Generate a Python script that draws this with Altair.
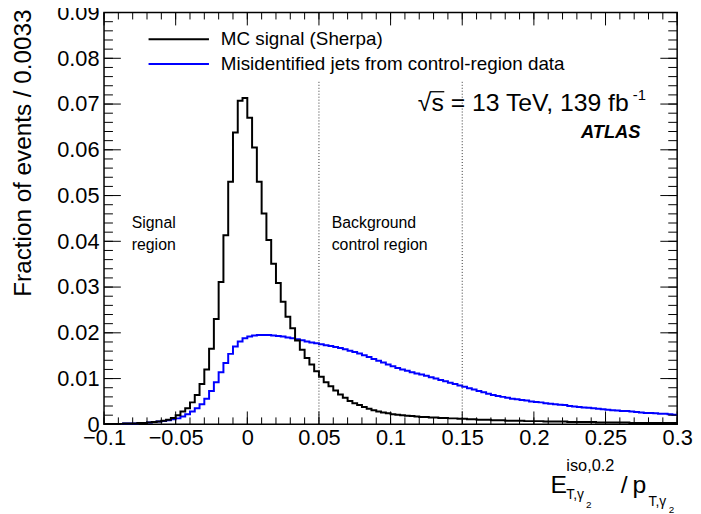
import altair as alt
import pandas as pd

# ---------------- data ----------------
X_MIN, X_MAX = -0.1, 0.3
Y_MIN, Y_MAX = 0.0, 0.09
N_BINS = 120

mc_signal = [
    0.0001, 0.0001, 0.0001, 0.0001, 0.0002, 0.0002, 0.0002, 0.0003, 0.0003, 0.0004,
    0.0005, 0.0006, 0.0008, 0.0010, 0.0014, 0.0020, 0.0028, 0.0035, 0.0048, 0.0064,
    0.0088, 0.0120, 0.0165, 0.0230, 0.0311, 0.0413, 0.0530, 0.0638, 0.0707, 0.0713,
    0.0670, 0.0605, 0.0530, 0.0461, 0.0403, 0.0351, 0.0309, 0.0268, 0.0235, 0.0210,
    0.0183, 0.0163, 0.0145, 0.0131, 0.0116, 0.0104, 0.0092, 0.0083, 0.0074, 0.0065,
    0.0058, 0.0051, 0.0046, 0.0042, 0.0038, 0.0034, 0.0031, 0.0028, 0.0026, 0.0024,
    0.0022, 0.0021, 0.0020, 0.0019, 0.0018, 0.0017, 0.0016, 0.0016, 0.0015, 0.0015,
    0.0014, 0.0014, 0.0013, 0.0013, 0.0012, 0.0012, 0.0011, 0.0011, 0.0010, 0.0010,
    0.0010, 0.0009, 0.0009, 0.0009, 0.0008, 0.0008, 0.0008, 0.0008, 0.0007, 0.0007,
    0.0007, 0.0007, 0.0006, 0.0006, 0.0006, 0.0006, 0.0006, 0.0005, 0.0005, 0.0005,
    0.0005, 0.0005, 0.0005, 0.0004, 0.0004, 0.0004, 0.0004, 0.0004, 0.0004, 0.0004,
    0.0003, 0.0003, 0.0003, 0.0003, 0.0003, 0.0003, 0.0003, 0.0003, 0.0003, 0.0003,
]

misid_jets = [
    0.0001, 0.0001, 0.0001, 0.0001, 0.0002, 0.0002, 0.0002, 0.0003, 0.0003, 0.0004,
    0.0005, 0.0006, 0.0007, 0.0009, 0.0011, 0.0013, 0.0017, 0.0022, 0.0028, 0.0035,
    0.0044, 0.0056, 0.0073, 0.0092, 0.0114, 0.0134, 0.0154, 0.0170, 0.0181, 0.0188,
    0.0192, 0.0194, 0.0195, 0.0195, 0.0195, 0.0194, 0.0193, 0.0192, 0.0190, 0.0188,
    0.0186, 0.0184, 0.0181, 0.0179, 0.0177, 0.0175, 0.0173, 0.0171, 0.0169, 0.0167,
    0.0164, 0.0161, 0.0158, 0.0155, 0.0151, 0.0147, 0.0143, 0.0139, 0.0135, 0.0131,
    0.0127, 0.0123, 0.0120, 0.0117, 0.0114, 0.0111, 0.0109, 0.0106, 0.0103, 0.0100,
    0.0097, 0.0094, 0.0091, 0.0088, 0.0085, 0.0082, 0.0079, 0.0076, 0.0073, 0.0070,
    0.0067, 0.0064, 0.0062, 0.0060, 0.0058, 0.0056, 0.0055, 0.0053, 0.0052, 0.0050,
    0.0049, 0.0048, 0.0046, 0.0045, 0.0044, 0.0043, 0.0042, 0.0040, 0.0039, 0.0038,
    0.0037, 0.0036, 0.0035, 0.0034, 0.0033, 0.0032, 0.0031, 0.0030, 0.0029, 0.0029,
    0.0028, 0.0027, 0.0026, 0.0025, 0.0025, 0.0024, 0.0023, 0.0023, 0.0022, 0.0021,
]

series_names = ["MC signal (Sherpa)", "Misidentified jets from control-region data"]
series_colors = ["#000000", "#0000ff"]

x_tick_labels = [-0.1, -0.05, 0.0, 0.05, 0.1, 0.15, 0.2, 0.25, 0.3]
y_tick_labels = [0.0, 0.01, 0.02, 0.03, 0.04, 0.05, 0.06, 0.07, 0.08, 0.09]
x_minor_ticks = [round(-0.1 + 0.01 * i, 4) for i in range(41)]
y_minor_ticks = [round(0.002 * i, 4) for i in range(46)]

region_edges = [0.05, 0.15]
region_line_top = 0.075

y_title = "Fraction of events / 0.0033"
signal_region_text = ["Signal", "region"]
control_region_text = ["Background", "control region"]
energy_text = "√s = 13 TeV, 139 fb"
lumi_sup = "-1"
experiment = "ATLAS"

# ---------------- layout / style ----------------
FONT = "Liberation Sans"
W, H = 579, 416

AW = {' ': 278, '=': 584, '0': 556, '1': 556, '2': 556, '3': 556, '9': 556,
      '.': 278, ',': 278, '-': 333, 'T': 611, 'e': 556, 'V': 667, 'f': 278,
      'b': 556, 's': 500, '√': 549, 'i': 222, 'o': 556, 'E': 667, 'γ': 500}


def tw(s, size):
    return sum(AW.get(c, 556) for c in s) * size / 1000.0


xscale = alt.Scale(domain=[X_MIN, X_MAX], nice=False, zero=False)
yscale = alt.Scale(domain=[Y_MIN, Y_MAX], nice=False, zero=False)
xaxis = alt.Axis(values=x_tick_labels, format="~g", ticks=False, domain=False,
                 grid=False, labelFont=FONT, labelFontSize=22, labelColor="black",
                 labelPadding=3, labelOverlap=False, labelFlush=False,
                 labelBound=False, title=None)
yaxis = alt.Axis(values=y_tick_labels, format="~g", ticks=False, domain=False,
                 grid=False, labelFont=FONT, labelFontSize=22, labelColor="black",
                 labelPadding=5, labelOverlap=False, labelFlush=False,
                 labelBound=False, title=None)


def X(f):
    return alt.X(f, scale=xscale, axis=xaxis)


def Y(f):
    return alt.Y(f, scale=yscale, axis=yaxis)


bw = (X_MAX - X_MIN) / N_BINS
rows = []
for name, vals in [(series_names[1], misid_jets), (series_names[0], mc_signal)]:
    for k, v in enumerate(vals):
        rows.append({"x": X_MIN + k * bw, "y": v, "s": name})
    rows.append({"x": X_MAX, "y": vals[-1], "s": name})
hist_df = pd.DataFrame(rows)

layers = []

hist = alt.Chart(hist_df).mark_line(interpolate="step-after", strokeWidth=2).encode(
    x=X("x:Q"), y=Y("y:Q"),
    color=alt.Color("s:N", scale=alt.Scale(domain=series_names, range=series_colors), legend=None),
    detail="s:N",
)
layers.append(hist)

# region separators
reg_df = pd.DataFrame({"x": region_edges, "y0": [0.0] * len(region_edges),
                       "y1": [region_line_top] * len(region_edges)})
layers.append(alt.Chart(reg_df).mark_rule(strokeDash=[1, 2], color="#333333", strokeWidth=1).encode(
    x=X("x:Q"), y=Y("y0:Q"), y2="y1:Q"))


# inward ROOT-style ticks on all four sides
def xticks(vals, length):
    df = pd.DataFrame({"v": vals})
    bot = alt.Chart(df).mark_rule(color="black", strokeWidth=1).encode(
        x=X("v:Q"), y=alt.value(H), y2=alt.value(H - length))
    top = alt.Chart(df).mark_rule(color="black", strokeWidth=1).encode(
        x=X("v:Q"), y=alt.value(0), y2=alt.value(length))
    return [bot, top]


def yticks(vals, length):
    df = pd.DataFrame({"v": vals})
    left = alt.Chart(df).mark_rule(color="black", strokeWidth=1).encode(
        y=Y("v:Q"), x=alt.value(0), x2=alt.value(length))
    right = alt.Chart(df).mark_rule(color="black", strokeWidth=1).encode(
        y=Y("v:Q"), x=alt.value(W - length), x2=alt.value(W))
    return [left, right]


layers += xticks(x_minor_ticks, 7)
layers += xticks(x_tick_labels, 13)
layers += yticks(y_minor_ticks, 9)
layers += yticks(y_tick_labels, 17)


def txt(s, x, y, size, align="left", baseline="alphabetic", weight="normal",
        style="normal", angle=0):
    return alt.Chart(pd.DataFrame({"t": [s]})).mark_text(
        align=align, baseline=baseline, font=FONT, fontSize=size,
        fontWeight=weight, fontStyle=style, angle=angle, color="black"
    ).encode(x=alt.value(x), y=alt.value(y), text="t:N")


def hline(x1, x2, y, color, width):
    return alt.Chart(pd.DataFrame({"c": [color]})).mark_rule(
        color=color, strokeWidth=width).encode(
        x=alt.value(x1), x2=alt.value(x2), y=alt.value(y))


# legend
leg_y = [27, 52]
for name, col, yy in zip(series_names, series_colors, leg_y):
    layers.append(hline(45, 106, yy, col, 2))
    layers.append(txt(name, 118, yy, 19, baseline="middle"))

# energy / lumi and experiment label
ex, ey, es = 317, 99, 25
layers.append(txt(energy_text, ex, ey, es))
layers.append(txt(lumi_sup, ex + tw(energy_text, es) - 1.5, ey - 11, 15))
s_left = ex + tw("√", es)
layers.append(hline(s_left - 1, s_left + tw("s", es) + 0.5, ey - 19, "black", 1.3))
layers.append(txt(experiment, 542, 127, 18.5, align="right", weight="bold", style="italic"))

# region texts
layers.append(txt(signal_region_text[0], 28, 217.5, 16))
layers.append(txt(signal_region_text[1], 28, 239.5, 16))
layers.append(txt(control_region_text[0], 230, 217.5, 16))
layers.append(txt(control_region_text[1], 230, 239.5, 16))

# y title
layers.append(txt(y_title, -81, -3, 24.5, align="right", baseline="middle", angle=270))

# x title  E_{T,γ2}^{iso,0.2} / p_{T,γ2}
layers.append(txt("E", 451, 485, 25))
layers.append(txt("iso,0.2", 467, 463.5, 16.5))
layers.append(txt("T,γ", 467, 491.5, 14))
layers.append(txt("2", 467 + tw("T,γ", 14) + 0.5, 500.5, 10))
layers.append(txt("/", 522, 485, 25))
layers.append(txt("p", 534, 485, 25))
layers.append(txt("T,γ", 550, 498.5, 14))
layers.append(txt("2", 550 + tw("T,γ", 14) + 1, 506, 10))

chart = alt.layer(*layers).properties(
    width=W, height=H,
    padding={"left": 97, "top": 2, "right": 16, "bottom": 88},
    autosize=alt.AutoSizeParams(type="none"),
).configure_view(stroke="black", strokeWidth=1.5)

chart.save("out.html", embed_options={"renderer": "svg", "actions": False})
